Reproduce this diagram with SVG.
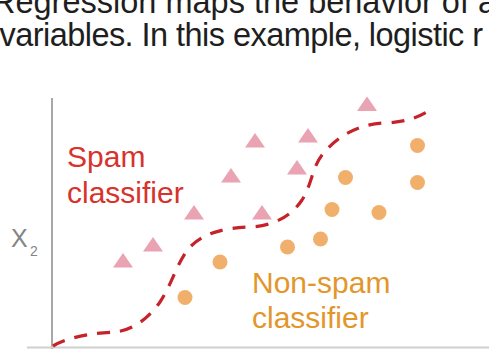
<svg xmlns="http://www.w3.org/2000/svg" xmlns:xlink="http://www.w3.org/1999/xlink" width="489" height="349" viewBox="0 0 489 349">
  <style>
    .body { font-family: "Liberation Sans", Arial, sans-serif; font-size: 32.5px; fill: #1e1e1e; }
    .lbl { font-family: "Liberation Sans", Arial, sans-serif; font-size: 30px; }
    .spam { fill: #d8322c; }
    .ham { fill: #e3962a; }
    .axis-lbl { font-family: "Liberation Sans", Arial, sans-serif; fill: #858585; }
    .axis { stroke: #a8a8a8; stroke-width: 2; fill: none; }
    .tri { fill: #eaa3b2; }
    .dot { fill: #f0b06c; }
    .boundary { fill: none; stroke: #c6222a; stroke-width: 3.2; stroke-dasharray: 13 10; stroke-linecap: butt; }
  </style>
  <defs>
    <path id="tri" d="M0,-7.5 L10,7 L-10,7 Z"/>
    <circle id="dot" r="7.5"/>
  </defs>

  <rect width="489" height="349" fill="#ffffff"/>

  <!-- explanatory text above the chart -->
  <text class="body" x="-8" y="12.5">Regression maps the behavior of a</text>
  <text class="body" x="-0.5" y="45.5" letter-spacing="-0.55">variables. In this example, logistic r</text>

  <!-- axes -->
  <g id="axes">
    <line class="axis" x1="52" y1="98" x2="52" y2="349"/>
    <line x1="27" y1="347.5" x2="489" y2="347.5" stroke="#cfcfcf" stroke-width="2"/>
    <text class="axis-lbl" x="11" y="247" font-size="25">X</text>
    <text class="axis-lbl" x="30" y="256" font-size="14">2</text>
  </g>

  <!-- spam samples -->
  <g id="spam-points" class="tri">
    <use xlink:href="#tri" x="367" y="104"/>
    <use xlink:href="#tri" x="308" y="135.5"/>
    <use xlink:href="#tri" x="255" y="140.5"/>
    <use xlink:href="#tri" x="231" y="175.5"/>
    <use xlink:href="#tri" x="297" y="167.5"/>
    <use xlink:href="#tri" x="194" y="212.5"/>
    <use xlink:href="#tri" x="262" y="212.5"/>
    <use xlink:href="#tri" x="153" y="244.5"/>
    <use xlink:href="#tri" x="123" y="260.5"/>
  </g>

  <!-- non-spam samples -->
  <g id="ham-points" class="dot">
    <use xlink:href="#dot" x="417.5" y="145.5"/>
    <use xlink:href="#dot" x="345.5" y="177.5"/>
    <use xlink:href="#dot" x="417.5" y="182.5"/>
    <use xlink:href="#dot" x="332" y="209.5"/>
    <use xlink:href="#dot" x="379" y="212.5"/>
    <use xlink:href="#dot" x="320.5" y="239"/>
    <use xlink:href="#dot" x="287.5" y="247"/>
    <use xlink:href="#dot" x="220" y="262"/>
    <use xlink:href="#dot" x="185" y="297.5"/>
  </g>

  <!-- decision boundary -->
  <g id="connectors">
    <path class="boundary" d="M53,346 C70,336 95,333 115,332 C135,330 150,316 160,302 C172,284 178,260 190,247 C205,232 225,228 250,227 C275,226 292,215 302,200 C312,184 312,168 322,155 C335,139 355,124 385,123 C405,122 418,118 430,110"/>
  </g>

  <!-- class labels -->
  <g id="spam-label">
    <text class="lbl spam" x="67" y="167">Spam</text>
    <text class="lbl spam" x="67" y="203">classifier</text>
  </g>
  <g id="ham-label">
    <text class="lbl ham" x="252" y="293">Non-spam</text>
    <text class="lbl ham" x="252" y="328">classifier</text>
  </g>
</svg>
